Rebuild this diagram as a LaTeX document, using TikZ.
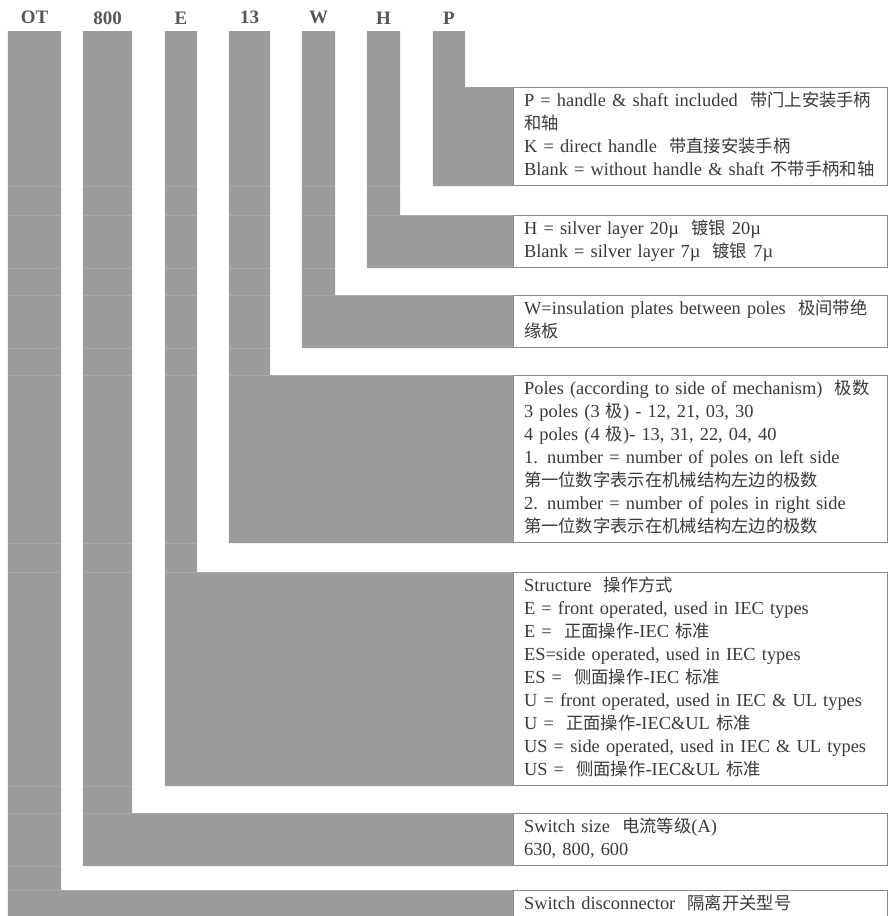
\documentclass[tikz,border=0pt]{standalone}
\usepackage{fontspec}
\setmainfont{Liberation Serif}
\newfontfamily\cjk[Scale=0.94]{Noto Sans CJK SC}
\newcommand{\zh}[1]{{\cjk #1}}
\definecolor{bargray}{HTML}{9C9C9C}
\definecolor{boxline}{HTML}{8A8A8A}
\definecolor{ink}{HTML}{3A3A3A}
\tikzset{
  code/.style={anchor=south, inner sep=0pt, minimum height=26pt,
    font=\fontsize{19}{23}\selectfont\bfseries, text=ink!85},
  desc/.style={anchor=north west, draw=boxline, line width=1.2pt,
    text width=353pt, inner xsep=10.5pt, inner ysep=3pt, align=left,
    font=\fontsize{18.4}{23}\selectfont, text=ink},
  bar/.style={fill=bargray},
  seam/.style={draw=white, opacity=.15, line width=.7pt}
}

\begin{document}
\begin{tikzpicture}[x=1pt,y=-1pt]
\useasboundingbox (0,0) rectangle (889,916);
\clip (0,0) rectangle (889,916);
\fill[white] (0,0) rectangle (889,916);
% code letters on top of the bars
\node[code, minimum width=53pt] (cOT) at (34.5,31) {OT};
\node[code, minimum width=49pt] (c800) at (107.5,31) {800};
\node[code, minimum width=32pt] (cE) at (181,31) {E};
\node[code, minimum width=41pt] (c13) at (249.5,31) {13};
\node[code, minimum width=33pt] (cW) at (318.5,31) {W};
\node[code, minimum width=33pt] (cH) at (383.5,31) {H};
\node[code, minimum width=32pt] (cP) at (449,31) {P};
% explanation boxes
\node[desc] (bP) at (513,87) {\strut P = handle \& shaft included\ \ \zh{带门上安装手柄}\\
  \strut\zh{和轴}\\
  \strut K = direct handle\ \ \zh{带直接安装手柄}\\
  \strut Blank = without handle \& shaft \zh{不带手柄和轴}};
\node[desc] (bH) at (513,215) {\strut H = silver layer 20µ\ \ \zh{镀银} 20µ\\
  \strut Blank = silver layer 7µ\ \ \zh{镀银} 7µ};
\node[desc] (bW) at (513,295) {\strut W=insulation plates between poles\ \ \zh{极间带绝}\\
  \strut\zh{缘板}};
\node[desc] (b13) at (513,375) {\strut Poles (according to side of mechanism)\ \ \zh{极数}\\
  \strut 3 poles (3 \zh{极}) - 12, 21, 03, 30\\
  \strut 4 poles (4 \zh{极})- 13, 31, 22, 04, 40\\
  \strut 1. number = number of poles on left side\\
  \strut\zh{第一位数字表示在机械结构左边的极数}\\
  \strut 2. number = number of poles in right side\\
  \strut\zh{第一位数字表示在机械结构左边的极数}};
\node[desc] (bE) at (513,572) {\strut Structure\ \ \zh{操作方式}\\
  \strut E = front operated, used in IEC types\\
  \strut E =\ \ \zh{正面操作}-IEC \zh{标准}\\
  \strut ES=side operated, used in IEC types\\
  \strut ES =\ \ \zh{侧面操作}-IEC \zh{标准}\\
  \strut U = front operated, used in IEC \& UL types\\
  \strut U =\ \ \zh{正面操作}-IEC\&UL \zh{标准}\\
  \strut US = side operated, used in IEC \& UL types\\
  \strut US =\ \ \zh{侧面操作}-IEC\&UL \zh{标准}};
\node[desc] (b800) at (513,813) {\strut Switch size\ \ \zh{电流等级}(A)\\
  \strut 630, 800, 600};
\node[desc] (bOT) at (513,890) {\strut Switch disconnector\ \ \zh{隔离开关型号}\\
  \strut};
% bars bent into the boxes
\foreach \c/\b in {cOT/bOT, c800/b800, cE/bE, c13/b13, cW/bW, cH/bH, cP/bP}
  \fill[bar] (\c.south west) -- (\c.south east) -- (\c.south east |- \b.north west)
    -- (\b.north west) -- (\b.south west) -- (\c.south west |- \b.south west) -- cycle;
% faint table seams across the bars
\foreach \b in {bP, bH, bW, b13, bE, b800}
  \draw[seam] (cOT.south west |- \b.south west) -- (\b.south west);
\foreach \b in {bH, bW, b13, bE, b800, bOT}
  \draw[seam] (cOT.south west |- \b.north west) -- (\b.north west);
\end{tikzpicture}
\end{document}
